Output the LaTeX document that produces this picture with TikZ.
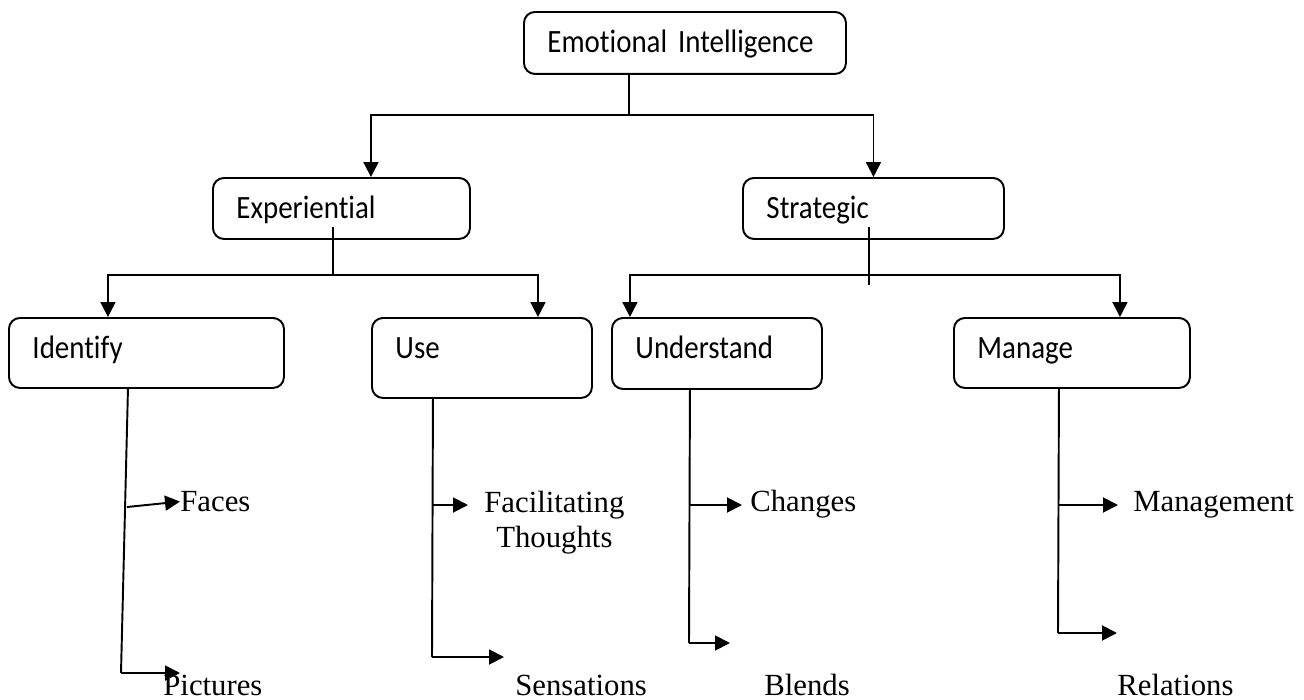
\documentclass[tikz,border=0pt]{standalone}
\usepackage{fontspec}
\setmainfont{Liberation Serif}
\setsansfont{Carlito}[Ligatures=NoCommon, FakeStretch=0.89]
\usetikzlibrary{arrows.meta,positioning,calc}

\begin{document}
\begin{tikzpicture}[
  box/.style={
    draw, rounded corners=0.22cm, line width=1.1pt, anchor=north west,
    align=left, inner xsep=0.47cm, inner ysep=0.2cm,
    text height=0.62cm, text depth=#1,
    font=\sffamily\fontsize{18.5pt}{21pt}\selectfont
  },
  leaf/.style={anchor=base west, inner sep=0pt,
    font=\fontsize{17.5pt}{20pt}\selectfont},
  wire/.style={line width=1.1pt},
  arr/.style={-{Triangle[length=0.30cm,width=0.30cm]}, line width=1.1pt}
]
\useasboundingbox (0,0) rectangle (26.08,-14);

% top level
\node[box=0.22cm, text width=5.50cm] (bEI) at (10.46,-0.22) {Emotional Intelligence};

% second level
\node[box=0.20cm, text width=4.20cm] (bExp) at (4.24,-3.54) {Experiential};
\node[box=0.20cm, text width=4.28cm] (bStr) at (14.84,-3.54) {Strategic};

% third level
\node[box=0.38cm, text width=4.56cm] (bId)  at (0.16,-6.34)  {Identify};
\node[box=0.58cm, text width=3.46cm] (bUse) at (7.42,-6.34)  {Use};
\node[box=0.40cm, text width=3.26cm] (bUnd) at (12.22,-6.34) {Understand};
\node[box=0.38cm, text width=3.78cm] (bMan) at (19.06,-6.34) {Manage};

% leaves
\node[leaf] (lFac) at (3.60,-10.23) {Faces};
\node[leaf] (lPic) at (3.26,-13.90) {Pictures};
\node[leaf, align=center, anchor=north west] (lFT) at (9.68,-9.81) {Facilitating\\Thoughts};
\node[leaf] (lSen) at (10.30,-13.90) {Sensations};
\node[leaf] (lChg) at (15.00,-10.23) {Changes};
\node[leaf] (lBle) at (15.28,-13.90) {Blends};
\node[leaf] (lMgt) at (22.66,-10.23) {Management};
\node[leaf] (lRel) at (22.34,-13.90) {Relations};

% tree joints
\coordinate (jEI)  at (12.58,-2.30);
\coordinate (jExp) at (6.66,-5.50);
\coordinate (jStr) at (17.38,-5.50);

\draw[wire] (bEI.south -| jEI) -- (jEI);
\draw[arr] (jEI) -| ([xshift=0.59cm]bExp.north);
\draw[arr] (jEI) -| (bStr.north);

\draw[wire] ([yshift=0.26cm]bExp.south -| jExp) -- (jExp);
\draw[arr] (jExp) -| ([xshift=-0.77cm]bId.north);
\draw[arr] (jExp) -| ([xshift=1.12cm]bUse.north);

\draw[wire] ([yshift=0.26cm]bStr.south -| jStr) -- ([yshift=-0.20cm]jStr);
\draw[arr] (jStr) -| ([xshift=-1.74cm]bUnd.north);
\draw[arr] (jStr) -| ([xshift=0.96cm]bMan.north);

% Identify branch
\coordinate (kFac) at (2.54,-10.14);
\coordinate (kPic) at (2.42,-13.46);
\draw[wire] ([xshift=-0.37cm]bId.south) -- (kPic);
\draw[arr] (kFac) -- (lFac.west);
\draw[arr] (kPic) -- (kPic -| lFac.west);

% Use branch
\coordinate (kFT)  at (8.64,-10.10);
\coordinate (kSen) at (8.64,-13.14);
\draw[wire] ([xshift=-0.98cm]bUse.south) -- (kSen);
\draw[arr] (kFT) -- ([xshift=-0.32cm]lFT.west |- kFT);
\draw[arr] (kSen) -- ([xshift=-0.22cm]lSen.west |- kSen);

% Understand branch
\coordinate (kChg) at (13.78,-10.10);
\coordinate (kBle) at (13.78,-12.86);
\draw[wire] ([xshift=-0.54cm]bUnd.south) -- (kBle);
\draw[arr] (kChg) -- ([xshift=-0.16cm]lChg.west |- kChg);
\draw[arr] (kBle) -- ([xshift=-0.68cm]lBle.west |- kBle);

% Manage branch
\coordinate (kMgt) at (21.16,-10.10);
\coordinate (kRel) at (21.16,-12.66);
\draw[wire] ([xshift=-0.26cm]bMan.south) -- (kRel);
\draw[arr] (kMgt) -- ([xshift=-0.30cm]lMgt.west |- kMgt);
\draw[arr] (kRel) -- (lRel.west |- kRel);

\end{tikzpicture}
\end{document}
